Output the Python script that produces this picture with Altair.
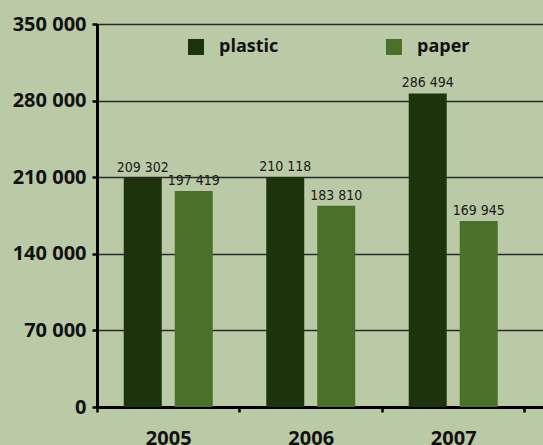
import altair as alt
import pandas as pd

years = ["2005", "2006", "2007"]
series = ["plastic", "paper"]
plastic = [209302, 210118, 286494]
paper = [197419, 183810, 169945]
y_ticks = [0, 70000, 140000, 210000, 280000, 350000]

rows = []
for i, yr in enumerate(years):
    rows.append({"year": yr, "series": "plastic", "value": plastic[i]})
    rows.append({"year": yr, "series": "paper", "value": paper[i]})
df = pd.DataFrame(rows)

BG = "#bac9a6"
colors = ["#1c330c", "#4a7029"]
BOLD_FONT = "Open Sans"
NARROW = "DejaVu Sans Condensed"
fmt_expr = "replace(format(datum.value, ','), /,/g, ' ')"

base = alt.Chart(df).encode(
    x=alt.X(
        "year:N", title=None, sort=years,
        scale=alt.Scale(paddingInner=0, paddingOuter=0.065, align=0),
        axis=alt.Axis(
            tickBand="extent", labelAngle=0, grid=False,
            domainColor="#000000", domainWidth=3,
            tickColor="#000000", tickWidth=2.5, tickSize=5,
            labelFont=BOLD_FONT, labelFontWeight="bold", labelFontSize=20,
            labelColor="#111111", labelPadding=16,
        ),
    ),
    xOffset=alt.XOffset(
        "series:N",
        scale=alt.Scale(domain=series, paddingInner=0.255, paddingOuter=0.525),
    ),
)

bars = base.mark_bar().encode(
    y=alt.Y(
        "value:Q", title=None,
        scale=alt.Scale(domain=[0, 350000]),
        axis=alt.Axis(
            values=y_ticks, labelExpr=fmt_expr, grid=True,
            gridColor="#2b2b2b", gridWidth=1.5,
            domainColor="#000000", domainWidth=3,
            tickColor="#000000", tickWidth=2.5, tickSize=5,
            labelFont=BOLD_FONT, labelFontWeight="bold", labelFontSize=20,
            labelColor="#111111", labelPadding=6,
        ),
    ),
    color=alt.Color(
        "series:N",
        scale=alt.Scale(domain=series, range=colors),
        legend=alt.Legend(
            title=None, orient="none", legendX=90, legendY=14,
            direction="horizontal", symbolType="square", symbolSize=256,
            symbolStrokeWidth=0, symbolOpacity=1,
            labelFont=BOLD_FONT, labelFontWeight="bold", labelFontSize=18,
            labelColor="#111111", labelOffset=14, columnPadding=106, padding=0,
        ),
    ),
)

labels = base.mark_text(
    baseline="bottom", dy=-3, font=NARROW, fontSize=14, color="#1a1a1a"
).transform_calculate(
    label=fmt_expr
).encode(
    y=alt.Y("value:Q"),
    text="label:N",
)

chart = alt.layer(bars, labels).properties(
    width=446, height=383,
    autosize=alt.AutoSizeParams(type="none"),
    padding={"left": 97, "top": 24, "right": 0, "bottom": 38},
    background=BG,
).configure_view(stroke=None)

chart.save("out.html", embed_options={"renderer": "svg", "actions": False})
